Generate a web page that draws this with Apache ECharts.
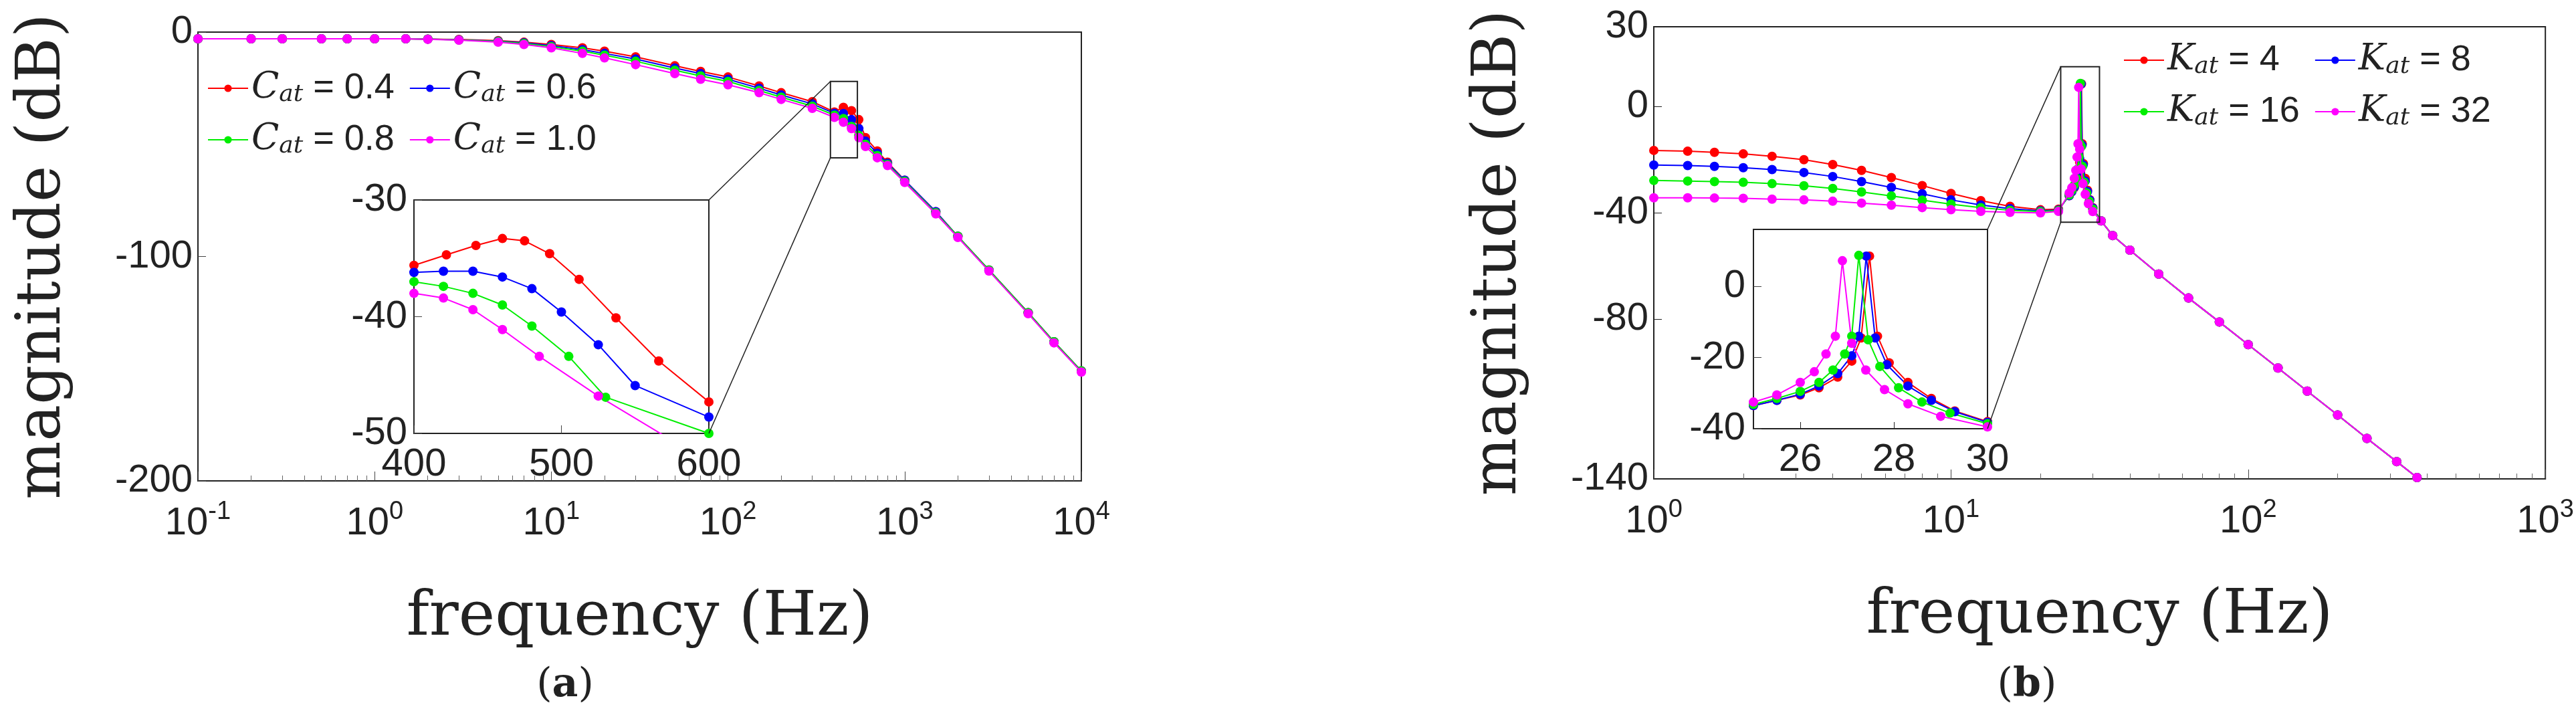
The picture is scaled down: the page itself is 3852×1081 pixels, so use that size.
<!DOCTYPE html>
<html><head><meta charset="utf-8">
<script src="https://cdn.jsdelivr.net/npm/echarts@6/dist/echarts.min.js"></script>
<style>html,body{margin:0;background:#fff}#c{width:3852px;height:1081px}</style>
</head><body><div id="c"></div>
<script>
// ---------- Panel (a) data ----------
const freqA = [0.1,0.2,0.3,0.5,0.7,1,1.5,2,3,5,7,10,15,20,30,50,70,100,150,200,300,400,450,500,550,600,700,800,1000,1500,2000,3000,5000,7000,10000];
const cat04 = [-3,-3,-3,-3,-3,-3,-3,-3.1,-3.3,-3.8,-4.5,-5.5,-7,-8.5,-11,-15,-17.5,-20,-24,-27,-31,-35.6,-33.5,-35,-39,-47,-53,-58,-66,-80,-91,-106,-125,-138,-151];
const cat06 = [-3,-3,-3,-3,-3,-3,-3,-3.1,-3.4,-4,-4.8,-6,-7.8,-9.5,-12,-16,-18.5,-21,-25,-28,-32,-36.2,-36.3,-39,-43,-48.6,-54,-58.5,-66,-80,-91,-106,-125,-138,-151];
const cat08 = [-3,-3,-3,-3,-3,-3,-3,-3.1,-3.5,-4.2,-5.1,-6.5,-8.5,-10.3,-13,-17,-19.5,-22,-26,-29,-33,-37,-38.5,-42,-46,-50,-55,-59,-66.5,-80.5,-91,-106,-125,-138,-151];
const cat10 = [-3,-3,-3,-3,-3,-3,-3,-3.2,-3.6,-4.5,-5.5,-7,-9.5,-11.5,-14.5,-18.5,-21,-23.5,-27,-30,-34,-38,-40.2,-43,-47,-51,-56,-59.5,-67,-81,-91.5,-106.5,-125.5,-138.5,-151.5];
const insAx = {
  r:[[400,-35.6],[422,-34.7],[442,-33.9],[460,-33.3],[475,-33.5],[492,-34.6],[512,-36.8],[537,-40.1],[566,-43.8],[600,-47.3]],
  b:[[400,-36.2],[420,-36.1],[440,-36.1],[460,-36.6],[480,-37.6],[500,-39.6],[525,-42.4],[550,-45.9],[600,-48.6]],
  g:[[400,-37],[420,-37.4],[440,-38],[460,-39],[480,-40.8],[505,-43.4],[530,-46.9],[600,-50]],
  m:[[400,-38],[420,-38.4],[440,-39.4],[460,-41.1],[485,-43.4],[525,-46.8],[600,-52.5]]
};
const legendA = ['0.4','0.6','0.8','1.0'];

// ---------- Panel (b) data ----------
const freqLow = [1,1.3,1.6,2,2.5,3.2,4,5,6.3,8,10,12.6,15.8,20,23];
const k4low  = [-16.5,-16.8,-17.2,-17.8,-18.7,-20,-21.8,-24,-26.7,-29.7,-32.7,-35.4,-37.5,-38.8,-38.6];
const k8low  = [-22,-22.2,-22.5,-23,-23.7,-24.8,-26.3,-28.2,-30.4,-32.8,-35.1,-37,-38.4,-39.2,-38.9];
const k16low = [-27.8,-28,-28.2,-28.5,-29,-29.8,-30.8,-32.1,-33.6,-35.2,-36.7,-38,-39,-39.5,-39.1];
const k32low = [-34.3,-34.3,-34.4,-34.5,-34.8,-35.1,-35.6,-36.3,-37.1,-38,-38.8,-39.4,-39.8,-40,-39.4];
const k4peak  = [[25,-33.5],[25.5,-32],[26,-30.5],[26.4,-28.5],[26.8,-25.5],[27.1,-21],[27.3,-14.5],[27.48,8.5],[27.65,-14],[27.9,-21.5],[28.3,-27],[28.8,-31.5],[29.3,-35],[30,-38]];
const k8peak  = [[25,-33.5],[25.5,-32],[26,-30.3],[26.4,-28],[26.8,-24.5],[27.1,-19.5],[27.25,-14],[27.41,8.5],[27.6,-14.5],[27.85,-22],[28.3,-28],[28.8,-32],[29.3,-35.2],[30,-38.2]];
const k16peak = [[25,-33.2],[25.5,-31.5],[26,-29.5],[26.4,-27],[26.7,-23.5],[26.95,-19],[27.1,-14],[27.25,8.7],[27.45,-15],[27.7,-22.5],[28.1,-28.5],[28.6,-32.5],[29.2,-35.6],[30,-38.6]];
const k32peak = [[25,-32.5],[25.5,-30.5],[26,-27],[26.3,-24],[26.55,-19],[26.75,-14],[26.9,7.2],[27.1,-16],[27.4,-23.5],[27.8,-29],[28.3,-33],[29,-36.5],[30,-39.5]];
const freqHigh = [32,35,40,50,63,80,100,126,158,200,251,316,370];
const kHigh = [-43,-48.5,-54,-63,-72,-81,-89.5,-98.3,-107,-116,-124.8,-133.5,-139.5];
const legendB = ['4','8','16','32'];

const colors = ['#ff0000','#0000ff','#00ee00','#ff00ff'];
const tickFont = "'Liberation Sans Narrow','Liberation Sans',sans-serif";
const serif = "'DejaVu Serif','Liberation Serif',serif";

function zipXY(xs, ys){ return xs.map((x,i)=>[x,ys[i]]); }
function fullB(low, peak){ return zipXY(freqLow, low).concat(peak, zipXY(freqHigh, kHigh)); }

const pow = v => { const e = Math.round(Math.log10(v)); return '{b|10}{s|' + e + '}'; };
const powRich = { b:{fontSize:58,fontFamily:tickFont,color:'#222'}, s:{fontSize:38,fontFamily:tickFont,color:'#222',padding:[0,0,34,0]} };

function logX(grid, min, max, name, gap){
  return {type:'log', gridIndex:grid, min, max, logBase:10,
    name, nameLocation:'middle', nameGap:gap, nameTextStyle:{fontFamily:serif,fontSize:92,color:'#222'},
    axisLine:{onZero:false,lineStyle:{color:'#222',width:2}}, axisTick:{inside:true,length:14,lineStyle:{color:'#444'}},
    minorTick:{show:true,splitNumber:9,length:8,lineStyle:{color:'#666'}},
    splitLine:{show:false}, axisLabel:{formatter:pow,rich:powRich,margin:28}};
}
function linAx(grid, min, max, opts){
  return Object.assign({type:'value', gridIndex:grid, min, max,
    axisLine:{show:true,onZero:false,lineStyle:{color:'#222',width:2}}, axisTick:{inside:true,length:12,lineStyle:{color:'#444'}},
    splitLine:{show:false}, axisLabel:{fontFamily:tickFont,fontSize:58,color:'#222'}}, opts||{});
}

const ser = (name, data, i, xi, yi, z) => ({type:'line', name, data, xAxisIndex:xi, yAxisIndex:yi, z,
  symbol:'circle', symbolSize:14, showSymbol:true, color:colors[i], lineStyle:{width:2,color:colors[i]}, itemStyle:{color:colors[i]},
  animation:false, clip:true});

const legA = legendA.map(v=>'C'+v), legB = legendB.map(v=>'K'+v);
const legRich = { i:{fontFamily:serif,fontStyle:'italic',fontSize:54,color:'#222'}, s:{fontFamily:serif,fontStyle:'italic',fontSize:36,color:'#222',padding:[20,0,0,0]}, t:{fontFamily:tickFont,fontSize:54,color:'#222',padding:[0,60,0,0]} };

const option = {
  backgroundColor:'#fff', animation:false,
  grid:[
    {left:296,top:48,width:1321,height:671,show:true,borderColor:'#222',borderWidth:2,backgroundColor:'#fff'},
    {left:619,top:299,width:441,height:349,show:true,borderColor:'#222',borderWidth:2,backgroundColor:'#fff',z:10},
    {left:2473,top:40,width:1335,height:676,show:true,borderColor:'#222',borderWidth:2,backgroundColor:'#fff'},
    {left:2622,top:343,width:350,height:298,show:true,borderColor:'#222',borderWidth:2,backgroundColor:'#fff',z:10}
  ],
  xAxis:[
    logX(0,0.1,10000,'frequency (Hz)',160),
    linAx(1,400,600,{interval:100,z:10,axisLabel:{fontFamily:tickFont,fontSize:58,color:'#222',margin:18}}),
    logX(2,1,1000,'frequency (Hz)',160),
    linAx(3,25,30,{interval:1,z:10,axisTick:{inside:true,length:10,customValues:[26,28,30]},axisLabel:{fontFamily:tickFont,fontSize:58,color:'#222',margin:18,customValues:[26,28,30]}})
  ],
  yAxis:[
    linAx(0,-200,0,{interval:100,name:'magnitude (dB)',nameLocation:'middle',nameGap:185,nameTextStyle:{fontFamily:serif,fontSize:92,color:'#222'}}),
    linAx(1,-50,-30,{interval:10,z:10,axisLabel:{fontFamily:tickFont,fontSize:58,color:'#222',margin:10}}),
    linAx(2,-140,30,{name:'magnitude (dB)',nameLocation:'middle',nameGap:185,nameTextStyle:{fontFamily:serif,fontSize:92,color:'#222'},
      axisTick:{inside:true,length:12,customValues:[-140,-80,-40,0,30]},axisLabel:{fontFamily:tickFont,fontSize:58,color:'#222',customValues:[-140,-80,-40,0,30]}}),
    linAx(3,-40,16,{interval:20,z:10,axisLabel:{fontFamily:tickFont,fontSize:58,color:'#222',margin:12,showMaxLabel:false}})
  ],
  legend:[
    {data:legA, left:305, top:100, width:760, itemWidth:60, itemHeight:14, itemGap:22,
     formatter:n=>'{i|C}{s|at}{t| = '+n.slice(1)+'}', textStyle:{rich:legRich}},
    {data:legB, left:3170, top:58, width:760, itemWidth:60, itemHeight:14, itemGap:22,
     formatter:n=>'{i|K}{s|at}{t| = '+(n.slice(1).length<2?n.slice(1)+'  ':n.slice(1))+'}', textStyle:{rich:legRich}}
  ],
  title:[
    {text:'({b|a})',left:840,top:990,textAlign:'center',textStyle:{fontFamily:serif,fontSize:60,fontWeight:'normal',color:'#222',rich:{b:{fontFamily:serif,fontSize:60,fontWeight:'bold',color:'#222'}}}},
    {text:'({b|b})',left:3026,top:990,textAlign:'center',textStyle:{fontFamily:serif,fontSize:60,fontWeight:'normal',color:'#222',rich:{b:{fontFamily:serif,fontSize:60,fontWeight:'bold',color:'#222'}}}}
  ],
  series:[
    ser('C'+legendA[0], zipXY(freqA,cat04),0,0,0,2),
    ser('C'+legendA[1], zipXY(freqA,cat06),1,0,0,3),
    ser('C'+legendA[2], zipXY(freqA,cat08),2,0,0,4),
    ser('C'+legendA[3], zipXY(freqA,cat10),3,0,0,5),
    ser('C'+legendA[0], insAx.r,0,1,1,12),
    ser('C'+legendA[1], insAx.b,1,1,1,12),
    ser('C'+legendA[2], insAx.g,2,1,1,12),
    ser('C'+legendA[3], insAx.m,3,1,1,12),
    ser('K'+legendB[0], fullB(k4low,k4peak),0,2,2,2),
    ser('K'+legendB[1], fullB(k8low,k8peak),1,2,2,3),
    ser('K'+legendB[2], fullB(k16low,k16peak),2,2,2,4),
    ser('K'+legendB[3], fullB(k32low,k32peak),3,2,2,5),
    ser('K'+legendB[0], k4peak,0,3,3,12),
    ser('K'+legendB[1], k8peak,1,3,3,12),
    ser('K'+legendB[2], k16peak,2,3,3,12),
    ser('K'+legendB[3], k32peak,3,3,3,12)
  ]
};

const chart = echarts.init(document.getElementById('c'));
chart.setOption(option);

// zoom rectangles and connector lines, placed through the axes' own scales
const zoomA = [[380,-22],[540,-56]], zoomB = [[23.4,15],[31.6,-43.5]];
function px(g, p){ return chart.convertToPixel({gridIndex:g}, p); }
function box(g, r){ const a=px(g,r[0]), b=px(g,r[1]); return {x:Math.min(a[0],b[0]),y:Math.min(a[1],b[1]),w:Math.abs(b[0]-a[0]),h:Math.abs(b[1]-a[1])}; }
const gs=[];
[[0,zoomA,1,[600,-30],[600,-50]],[2,zoomB,3,[30,16],[30,-40]]].forEach(([g,r,gi,tr,br])=>{
  const b=box(g,r); const t=px(gi,tr), u=px(gi,br);
  gs.push({type:'rect',shape:{x:b.x,y:b.y,width:b.w,height:b.h},style:{fill:null,stroke:'#222',lineWidth:2},z:20});
  gs.push({type:'line',shape:{x1:b.x,y1:b.y,x2:t[0],y2:t[1]},style:{stroke:'#222',lineWidth:1.5},z:20});
  gs.push({type:'line',shape:{x1:b.x,y1:b.y+b.h,x2:u[0],y2:u[1]},style:{stroke:'#222',lineWidth:1.5},z:20});
});
chart.setOption({graphic:gs});
</script></body></html>
